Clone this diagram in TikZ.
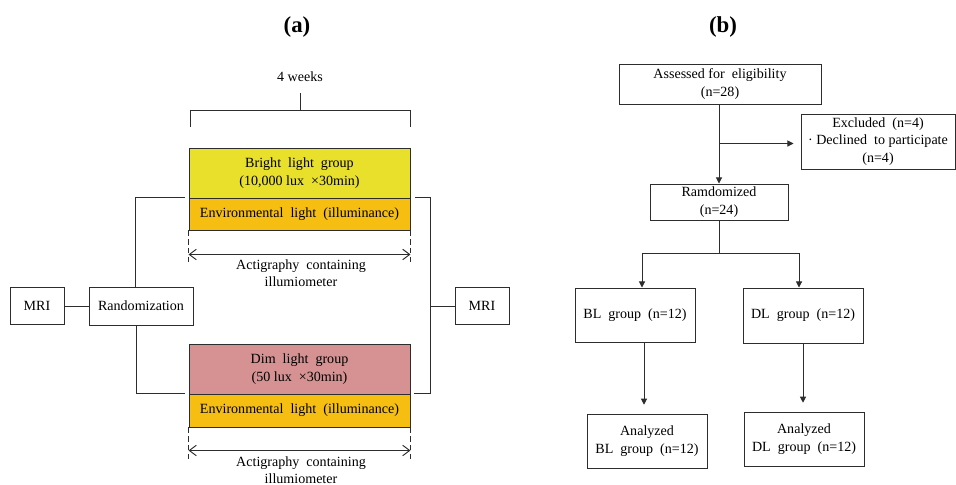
\documentclass[tikz,border=0pt]{standalone}
\usepackage{fontspec}
\setmainfont{Liberation Serif}
\usetikzlibrary{arrows.meta}
\definecolor{brightY}{RGB}{232,224,42}
\definecolor{envO}{RGB}{245,190,16}
\definecolor{dimP}{RGB}{214,146,146}
\definecolor{lineC}{RGB}{45,45,45}
\tikzset{
  box/.style={draw=lineC,inner sep=0pt,align=center,font=\fontsize{8}{10}\selectfont},
  wh/.style n args={2}{minimum width=#1*0.02cm,minimum height=#2*0.02cm},
  txt/.style={align=center,inner sep=0pt,font=\fontsize{8}{10}\selectfont},
  ttl/.style={font=\bfseries\fontsize{13}{15}\selectfont},
  line/.style={draw=lineC},
  arr/.style={line,-{Triangle[length=3.5pt,width=3.5pt]}},
  dbl/.style={line,{Straight Barb[length=4pt,width=6pt]}-{Straight Barb[length=4pt,width=6pt]}},
  guide/.style={line,densely dashed}}
\begin{document}
\begin{tikzpicture}[x=0.02cm,y=-0.02cm,line width=0.55pt]
\def\px{0.02cm}
\useasboundingbox (0,0) rectangle (956,484);

% (a) protocol
\node[ttl] (ta) at (297,27) {(a)};
\node[txt] (weeks) at (300,77) {4 weeks};
\draw[line] (300,93) -- (300,110);
\draw[line] (190,127) -- (190,110) -- (410,110) -- (410,127);

\node[box,wh={221}{50},fill=brightY] (bright) at (299.5,173) {Bright\ \ light\ \ group\\(10,000 lux\ \ ×30min)};
\node[box,wh={221}{32},fill=envO] (env1) at (299.5,214) {Environmental\ \ light\ \ (illuminance)};
\node[box,wh={221}{50},fill=dimP] (dim) at (299.5,369) {Dim\ \ light\ \ group\\(50 lux\ \ ×30min)};
\node[box,wh={221}{33},fill=envO] (env2) at (299.5,410.5) {Environmental\ \ light\ \ (illuminance)};

\node[box,wh={54}{37}] (mri1) at (37,306) {MRI};
\node[box,wh={104}{38}] (rand) at (141,306) {Randomization};
\node[box,wh={54}{37}] (mri2) at (482,306) {MRI};

\draw[line] (mri1) -- (rand);
\draw[line] ([xshift=-6*\px]rand.north) |- ([xshift=-4*\px]env1.north west);
\draw[line] ([xshift=-5*\px]rand.south) |- ([xshift=-4*\px]env2.north west);
\draw[line] ([xshift=5*\px]env1.north east) -| ([xshift=20*\px]env2.north east) -- ([xshift=4*\px]env2.north east);
\coordinate (rj) at (431,306);
\draw[line] (rj) -- (mri2);

% actigraphy spans
\draw[guide] (env1.south west) -- ++(0,33);
\draw[guide] (env1.south east) -- ++(0,33);
\draw[dbl] ([yshift=-24*\px]env1.south west) -- ([yshift=-24*\px]env1.south east);
\node[txt] (act1) at (301,273) {Actigraphy\ \ containing\\illumiometer};
\draw[guide] (env2.south west) -- ++(0,33);
\draw[guide] (env2.south east) -- ++(0,33);
\draw[dbl] ([yshift=-23*\px]env2.south west) -- ([yshift=-23*\px]env2.south east);
\node[txt] (act2) at (301,470) {Actigraphy\ \ containing\\illumiometer};

% (b) flow
\node[ttl] (tb) at (723,27) {(b)};
\node[box,wh={202}{40}] (assess) at (720,84) {Assessed for\ \ eligibility\\(n=28)};
\node[box,wh={154}{55}] (excl) at (878,141.5) {Excluded\ \ (n=4)\\·\ Declined\ \ to participate\\(n=4)};
\node[box,wh={138}{36}] (rando) at (719,202) {Ramdomized\\(n=24)};
\node[box,wh={120}{54}] (bl) at (635,315) {BL\ \ group\ \ (n=12)};
\node[box,wh={120}{55}] (dl) at (803,315.5) {DL\ \ group\ \ (n=12)};
\node[box,wh={120}{54}] (anbl) at (647,441) {Analyzed\\BL\ \ group\ \ (n=12)};
\node[box,wh={120}{54}] (andl) at (804,439) {Analyzed\\DL\ \ group\ \ (n=12)};

\draw[arr] (rando.north |- assess.south) -- (rando.north);
\draw[arr] ([yshift=-2*\px]rando.north |- excl.west) -- ([xshift=-7*\px,yshift=-2*\px]excl.west);
\coordinate (sp) at (719,253);
\draw[line] (rando.south) -- (sp);
\draw[arr] (sp) -| ([xshift=7*\px]bl.north);
\draw[arr] (sp) -| ([xshift=-4*\px]dl.north);
\draw[arr,shorten >=5pt] ([xshift=9*\px]bl.south) -- ([xshift=9*\px]bl.south |- anbl.north);
\draw[arr,shorten >=5pt] (dl.south) -- (dl.south |- andl.north);
\end{tikzpicture}
\end{document}
